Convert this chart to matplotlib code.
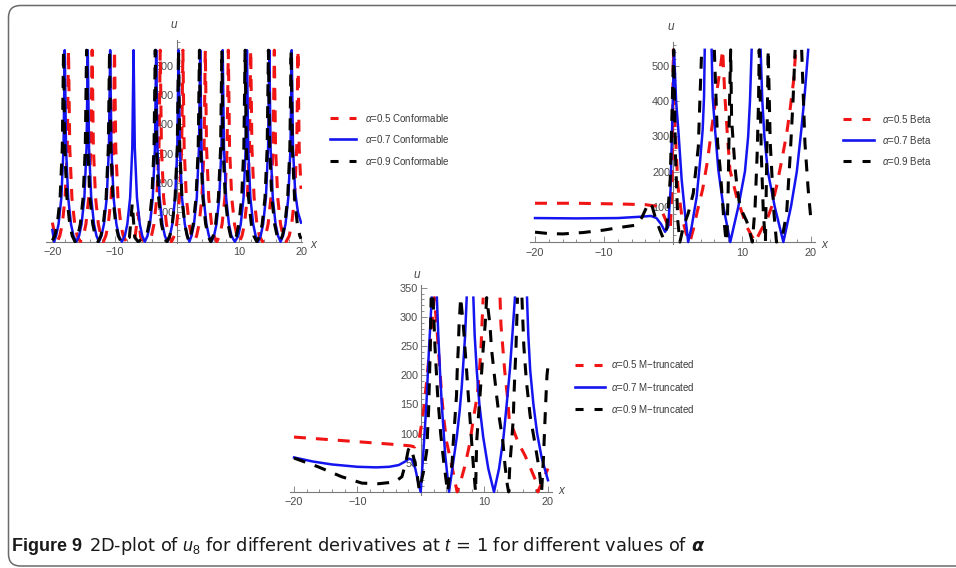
import numpy as np
import matplotlib
matplotlib.use('Agg')
import matplotlib.pyplot as plt
from matplotlib import font_manager
from matplotlib.lines import Line2D
from matplotlib.patches import FancyBboxPatch
from matplotlib.ticker import FixedLocator, MultipleLocator
from matplotlib.transforms import IdentityTransform

N = np.nan

# ---- panel 1: conformable derivative (x, u) ----
red_conf = [(-20, 65), (-19.6, 25), (-19.2, 0), (-18.8, 20), (-18.4, 60), (-17.95, 150), (-17.6, 320), (-17.4, 653),
            (-17.2, 320), (-16.85, 150), (-16.4, 60), (-16.0, 20), (-15.5, 0), (-15.0, 20), (-14.6, 60), (-14.15, 150),
            (-13.8, 320), (-13.6, 653), (-13.4, 320), (-13.05, 150), (-12.6, 60), (-12.2, 20), (-11.8, 0), (-11.4, 20),
            (-11.0, 60), (-10.55, 150), (-10.2, 320), (-10.0, 653), (-9.8, 320), (-9.45, 150), (-9.0, 60), (-8.6, 20),
            (-8.1, 0), (-6.7, 15), (-6.2, 100), (-5.8, 15), (-5.2, 0), (-4.05, 20), (-3.65, 60), (-3.2, 150),
            (-2.85, 320), (-2.65, 653), (-2.45, 320), (-2.1, 150), (-1.65, 60), (-1.25, 20), (-0.83, 0), (-0.4, 20),
            (0.0, 60), (0.45, 150), (0.8, 320), (1.0, 653), (1.2, 320), (1.55, 150), (2.0, 60), (2.4, 20), (2.8, 0),
            (3.2, 20), (3.6, 60), (4.05, 150), (4.4, 320), (4.6, 653), (4.8, 320), (5.15, 150), (5.6, 60), (6.0, 20),
            (6.45, 0), (6.9, 20), (7.3, 60), (7.75, 150), (8.1, 320), (8.3, 653), (8.5, 320), (8.85, 150), (9.3, 60),
            (9.7, 20), (10.1, 0), (10.5, 20), (10.9, 60), (11.35, 150), (11.7, 320), (11.9, 653), (12.1, 320),
            (12.45, 150), (12.9, 60), (13.3, 20), (13.8, 0), (14.3, 20), (14.7, 60), (15.15, 150), (15.5, 320),
            (15.7, 653), (15.9, 320), (16.25, 150), (16.7, 60), (17.1, 20), (17.6, 0), (18.1, 20), (18.5, 60),
            (18.95, 150), (19.3, 320), (19.5, 653), (19.7, 320), (20.0, 180)]

blue_conf = [(-20, 40), (-19.7, 0), (-19.4, 20), (-19.0, 60), (-18.55, 150), (-18.2, 320), (-18.0, 653), (-17.8, 320),
             (-17.45, 150), (-17.0, 60), (-16.6, 20), (-16.15, 0), (-15.7, 20), (-15.3, 60), (-14.85, 150),
             (-14.5, 320), (-14.3, 653), (-14.1, 320), (-13.75, 150), (-13.3, 60), (-12.9, 20), (-12.5, 0),
             (-12.1, 20), (-11.7, 60), (-11.25, 150), (-10.9, 320), (-10.7, 653), (-10.5, 320), (-10.15, 150),
             (-9.7, 60), (-9.3, 20), (-8.82, 0), (-8.34, 20), (-7.94, 60), (-7.49, 150), (-7.14, 320), (-6.94, 653),
             (-6.74, 320), (-6.39, 150), (-5.94, 60), (-5.54, 20), (-5.12, 0), (-4.7, 20), (-4.3, 60), (-3.85, 150),
             (-3.5, 320), (-3.3, 653), (-3.1, 320), (-2.75, 150), (-2.3, 60), (-1.9, 20), (-1.5, 0), (-1.1, 20),
             (-0.7, 60), (-0.25, 150), (0.1, 320), (0.3, 653), (0.5, 320), (0.85, 150), (1.3, 60), (1.7, 20),
             (2.04, 0), (2.38, 20), (2.78, 60), (3.23, 150), (3.58, 320), (3.78, 653), (3.98, 320), (4.33, 150),
             (4.78, 60), (5.18, 20), (5.59, 0), (6.0, 20), (6.4, 60), (6.85, 150), (7.2, 320), (7.4, 653), (7.6, 320),
             (7.95, 150), (8.4, 60), (8.8, 20), (9.35, 0), (9.9, 20), (10.3, 60), (10.75, 150), (11.1, 320),
             (11.3, 653), (11.5, 320), (11.85, 150), (12.3, 60), (12.7, 20), (13.1, 0), (13.5, 20), (13.9, 60),
             (14.35, 150), (14.7, 320), (14.9, 653), (15.1, 320), (15.45, 150), (15.9, 60), (16.3, 20), (16.7, 0),
             (17.1, 20), (17.5, 60), (17.95, 150), (18.3, 320), (18.5, 653), (18.7, 320), (19.05, 170), (19.5, 100),
             (20.0, 65)]

black_conf = [(-20, 5), (-19.6, 20), (-19.2, 60), (-18.75, 150), (-18.4, 320), (-18.2, 653), (-18.0, 320),
              (-17.65, 150), (-17.2, 60), (-16.8, 20), (-16.35, 0), (-15.9, 20), (-15.5, 60), (-15.05, 150),
              (-14.7, 320), (-14.5, 653), (-14.3, 320), (-13.95, 150), (-13.5, 60), (-13.1, 20), (-12.65, 0),
              (-12.2, 20), (-11.8, 60), (-11.35, 150), (-11.0, 320), (-10.8, 653), (-10.6, 320), (-10.25, 150),
              (-9.8, 60), (-9.4, 20), (-8.95, 0), (-7.6, 15), (-7.15, 130), (-6.75, 15), (-6.2, 0), (-4.85, 20),
              (-4.45, 60), (-4.0, 150), (-3.65, 320), (-3.45, 653), (-3.25, 320), (-2.9, 150), (-2.45, 60),
              (-2.05, 20), (-1.58, 0), (-1.11, 20), (-0.71, 60), (-0.26, 150), (0.09, 320), (0.29, 653), (0.49, 320),
              (0.84, 150), (1.29, 60), (1.69, 20), (1.97, 0), (2.26, 20), (2.66, 60), (3.11, 150), (3.46, 320),
              (3.66, 653), (3.86, 320), (4.21, 150), (4.66, 60), (5.06, 20), (5.46, 0), (5.86, 20), (6.26, 60),
              (6.71, 150), (7.06, 320), (7.26, 653), (7.46, 320), (7.81, 150), (8.26, 60), (8.66, 20), (9.13, 0),
              (9.6, 20), (10.0, 60), (10.45, 150), (10.8, 320), (11.0, 653), (11.2, 320), (11.55, 150), (12.0, 60),
              (12.4, 20), (12.88, 0), (13.35, 20), (13.75, 60), (14.2, 150), (14.55, 320), (14.75, 653), (14.95, 320),
              (15.3, 150), (15.75, 60), (16.15, 20), (16.58, 0), (17.0, 20), (17.4, 60), (17.85, 150), (18.2, 320),
              (18.4, 653), (18.6, 320), (18.95, 150), (19.4, 60), (19.8, 20), (20.0, 10)]

# ---- panel 2: beta derivative ----
red_beta = [(-20, 110), (-14, 110), (-8, 108), (-4, 106), (-2.5, 102), (-1.6, 88), (-0.9, 55), (-0.4, 34),
            (-0.15, 150), (0.05, 545), (0.3, 330), (0.7, 160), (1.3, 70), (1.9, 25), (2.45, 0), (3.0, 40), (3.5, 85),
            (4.3, 150), (5.0, 230), (5.6, 320), (6.3, 420), (6.9, 500), (7.2, 545), (7.5, 420), (7.9, 300),
            (8.26, 204), (9.23, 128), (10.7, 43), (11.9, 0), (12.8, 35), (13.6, 62), (14.3, 100), (15.0, 157),
            (15.8, 235), (16.5, 310), (17.0, 380), (17.5, 460), (17.8, 545)]

blue_beta = [(-20, 68), (-14, 67), (-8, 68), (-4.5, 72), (-3.2, 74), (-2.4, 68), (-1.7, 50), (-1.15, 29), (-0.7, 43),
             (-0.35, 150), (0.15, 545), (0.45, 400), (0.77, 318), (1.26, 176), (1.74, 81), (2.2, 0), (2.7, 43),
             (3.43, 128), (3.9, 223), (4.3, 318), (4.5, 412), (4.6, 545), (N, N), (5.6, 545), (5.75, 412), (6.1, 318),
             (6.57, 205), (7.3, 101), (8.3, 0), (9.47, 100), (10.43, 200), (10.9, 300), (11.16, 400), (11.4, 545),
             (N, N), (12.7, 545), (12.95, 400), (13.25, 300), (13.75, 200), (14.75, 100), (16.0, 0), (17.1, 100),
             (17.95, 200), (18.6, 318), (19.1, 420), (19.6, 545)]

black_beta = [(-20, 28), (-18, 24), (-16, 23), (-13, 27), (-10, 34), (-7.5, 42), (-5.3, 48), (-4.5, 70), (-3.8, 100),
              (-3.4, 112), (-3.0, 100), (-2.6, 72), (-1.9, 34), (-1.4, 10), (-0.9, 40), (-0.4, 180), (0.1, 545),
              (0.35, 250), (0.7, 60), (1.0, 0), (1.5, 43), (2.2, 81), (2.94, 138), (3.67, 270), (3.9, 403),
              (4.16, 545), (N, N), (5.99, 545), (6.23, 412), (6.47, 280), (6.81, 214), (7.06, 148), (7.3, 81),
              (7.6, 20), (7.8, 0), (8.0, 150), (8.2, 400), (8.36, 545), (8.5, 346), (8.74, 280), (8.98, 214),
              (9.23, 166), (9.7, 100), (10.7, 58), (11.16, 25), (11.5, 0), (11.9, 100), (12.2, 250), (12.4, 400),
              (12.5, 545), (12.8, 250), (13.1, 81), (13.4, 0), (13.6, 250), (13.8, 545), (14.1, 280), (14.64, 81),
              (15.0, 0), (15.8, 10), (16.47, 81), (17.0, 250), (17.4, 400), (17.7, 545), (N, N), (18.65, 545),
              (19.13, 280), (19.6, 148), (20.0, 62)]

# ---- panel 3: M-truncated derivative ----
red_m = [(-20, 94), (-15, 90), (-10, 86), (-5, 82), (-1.7, 79), (-1.0, 77), (-0.3, 90), (0.3, 130), (0.9, 190),
         (1.5, 260), (2.1, 333), (2.47, 286), (2.73, 246), (3.0, 206), (3.26, 165), (3.6, 125), (4.05, 85),
         (4.85, 45), (5.5, 10), (5.7, 0), (6.3, 20), (6.93, 45), (7.72, 85), (8.24, 125), (8.87, 165), (9.2, 206),
         (9.45, 246), (9.6, 286), (9.8, 333), (N, N), (12.45, 333), (12.6, 286), (12.9, 246), (13.2, 206),
         (13.6, 165), (13.9, 125), (15.3, 85), (16.4, 62), (17.2, 42), (18.2, 16), (18.4, 0), (19.0, 15), (20.0, 40)]

blue_m = [(-20, 59), (-17, 52), (-14, 47), (-10, 43), (-7, 42), (-5, 43), (-3.5, 46), (-2.5, 52), (-1.9, 57),
          (-1.4, 55), (-0.9, 40), (-0.5, 20), (-0.05, 0), (0.33, 60), (0.86, 152), (1.23, 238), (1.7, 333), (N, N),
          (2.5, 333), (2.74, 266), (3.0, 205), (3.27, 151), (3.8, 65), (4.42, 0), (5.0, 45), (5.64, 94), (6.1, 140),
          (6.42, 180), (6.94, 266), (7.2, 333), (N, N), (8.25, 333), (8.45, 270), (8.78, 209), (9.2, 150), (9.8, 94),
          (10.6, 40), (11.5, 0), (12.3, 40), (13.0, 94), (13.5, 150), (14.0, 209), (14.4, 270), (14.8, 333), (N, N),
          (16.7, 333), (16.9, 270), (17.2, 209), (17.7, 151), (18.3, 100), (19.0, 59), (20.0, 20)]

black_m = [(-20, 58), (-16.2, 43), (-12.5, 26), (-9.3, 15), (-6.7, 14), (-4.1, 17), (-3.0, 26), (-2.4, 50),
           (-2.0, 72), (-1.73, 77), (-1.3, 65), (-0.94, 49), (-0.55, 25), (-0.27, 3), (0.1, 20), (0.4, 35),
           (0.9, 70), (1.2, 140), (1.45, 240), (1.6, 333), (N, N), (1.9, 333), (2.2, 250), (2.6, 170), (3.1, 100),
           (3.6, 50), (4.05, 12), (4.2, 0), (4.5, 30), (4.88, 46), (5.09, 86), (5.35, 126), (5.6, 166), (5.7, 206),
           (5.87, 246), (6.0, 286), (6.25, 333), (6.67, 286), (6.93, 246), (7.2, 206), (7.45, 166), (7.72, 126),
           (7.98, 86), (8.24, 46), (8.5, 12), (8.6, 0), (8.77, 86), (9.03, 126), (9.3, 166), (9.56, 206), (9.8, 246),
           (10.1, 286), (10.35, 333), (10.87, 286), (11.1, 246), (11.5, 206), (11.9, 166), (12.35, 126), (12.9, 86),
           (13.23, 46), (13.6, 12), (13.8, 0), (14.0, 46), (14.28, 86), (14.54, 126), (14.65, 166), (14.8, 206),
           (14.96, 246), (15.07, 286), (15.2, 333), (N, N), (15.9, 333), (16.2, 250), (16.6, 190), (17.2, 130),
           (18.0, 80), (18.6, 40), (19.0, 0), (19.3, 60), (19.5, 115), (19.7, 166), (19.85, 200), (20.0, 215)]

x_ticks = [-20, -10, 10, 20]
legend_conf = [r'$\alpha$=0.5 Conformable', r'$\alpha$=0.7 Conformable', r'$\alpha$=0.9 Conformable']
legend_beta = [r'$\alpha$=0.5 Beta', r'$\alpha$=0.7 Beta', r'$\alpha$=0.9 Beta']
legend_m = ['$\\alpha$=0.5 M\u2212truncated', '$\\alpha$=0.7 M\u2212truncated', '$\\alpha$=0.9 M\u2212truncated']

W, H = 956, 568
RED, BLUE, BLACK = '#f01414', '#1414f0', '#000000'

names = {f.name for f in font_manager.fontManager.ttflist}
NARROW = 'Liberation Sans Narrow' if 'Liberation Sans Narrow' in names else 'Liberation Sans'
LEG_SIZE = 8 if NARROW == 'Liberation Sans Narrow' else 7

plt.rcParams['lines.scale_dashes'] = False
plt.rcParams['mathtext.fontset'] = 'custom'
plt.rcParams['mathtext.rm'] = NARROW
plt.rcParams['mathtext.it'] = NARROW + ':italic'
plt.rcParams['font.family'] = [NARROW, 'DejaVu Sans']


def fx(px):
    return px / W


def fy(py):
    return 1 - py / H


def add_panel(fig, box, xlim, ylim, yticks, yminor, series, ulab, xlab):
    x0, x1, y0, y1 = box
    ax = fig.add_axes([fx(x0), fy(y1), (x1 - x0) / W, (y1 - y0) / H])
    ax.patch.set_alpha(0)
    for pts, color, dashed in series:
        arr = np.array(pts, dtype=float)
        if dashed:
            ax.plot(arr[:, 0], arr[:, 1], color=color, lw=2.2, dashes=(8.6, 7.2), dash_capstyle='butt')
        else:
            ax.plot(arr[:, 0], arr[:, 1], color=color, lw=1.8)
    ax.set_xlim(*xlim)
    ax.set_ylim(*ylim)
    for s in ['top', 'right']:
        ax.spines[s].set_visible(False)
    ax.spines['left'].set_position(('data', 0))
    ax.spines['bottom'].set_position(('data', 0))
    for s in ['left', 'bottom']:
        ax.spines[s].set_color('#7a7a7a')
        ax.spines[s].set_linewidth(0.8)
        ax.spines[s].set_zorder(0.5)
    ax.xaxis.set_major_locator(FixedLocator(x_ticks))
    ax.xaxis.set_minor_locator(MultipleLocator(2))
    ax.yaxis.set_major_locator(FixedLocator(yticks))
    ax.yaxis.set_minor_locator(MultipleLocator(yminor))
    ax.tick_params(which='both', direction='in', color='#7a7a7a', width=0.6, labelcolor='#4a4a4a',
                   labelsize=7.8)
    ax.tick_params(axis='x', pad=4)
    ax.tick_params(axis='y', pad=2)
    ax.tick_params(which='major', length=4)
    ax.tick_params(which='minor', length=2)
    fig.text(fx(ulab[0]), fy(ulab[1]), 'u', style='italic', color='#4a4a4a', size=8.5, ha='center', va='center')
    fig.text(fx(xlab[0]), fy(xlab[1]), 'x', style='italic', color='#4a4a4a', size=8.5, ha='center', va='center')
    return ax


def add_legend(fig, x0, x1, xt, rows, labels):
    styles = [(RED, True), (BLUE, False), (BLACK, True)]
    for (color, dashed), y, label in zip(styles, rows, labels):
        if dashed:
            line = Line2D([fx(x0), fx(x1)], [fy(y), fy(y)], transform=fig.transFigure, color=color, lw=2.2,
                          dashes=(5.8, 7.9), dash_capstyle='butt')
        else:
            line = Line2D([fx(x0), fx(x1)], [fy(y), fy(y)], transform=fig.transFigure, color=color, lw=1.9)
        fig.add_artist(line)
        fig.text(fx(xt), fy(y), label, size=LEG_SIZE, color='#3a3a3a', va='center', ha='left')


fig = plt.figure(figsize=(W / 100, H / 100), dpi=100)

add_panel(fig, (45.5, 302.3, 39.9, 243.2), (-21.1, 20.2), (-5, 688), [100, 200, 300, 400, 500, 600], 20,
          [(red_conf, RED, True), (blue_conf, BLUE, False), (black_conf, BLACK, True)], (173.5, 25), (313, 245))
add_legend(fig, 330, 356, 365, [118.3, 139.3, 161], legend_conf)

add_panel(fig, (530.2, 815.1, 42.1, 243.8), (-20.7, 20.6), (-5, 567), [100, 200, 300, 400, 500], 20,
          [(red_beta, RED, True), (blue_beta, BLUE, False), (black_beta, BLACK, True)], (671, 27), (824, 245))
add_legend(fig, 843, 874, 882, [119, 140, 161], legend_beta)

add_panel(fig, (290.2, 552.4, 284.8, 494.8), (-20.6, 20.7), (-5, 355), [50, 100, 150, 200, 250, 300, 350], 10,
          [(red_m, RED, True), (blue_m, BLUE, False), (black_m, BLACK, True)], (417, 275), (561, 491))
add_legend(fig, 575, 605, 611, [364.5, 386.7, 409], legend_m)

# frame around the figure
frame = FancyBboxPatch((8.5, H - 566), 960, 566 - 5.5, boxstyle='round,pad=0,rounding_size=12',
                       transform=IdentityTransform(), fill=False, edgecolor='#6a6a6a', lw=1.1)
fig.add_artist(frame)

# caption: bold label, then the sentence stretched to the width it has in the picture
renderer = fig.canvas.get_renderer()
t1 = fig.text(fx(12), fy(551), 'Figure 9', weight='bold', size=13, color='#1a1a1a', va='baseline')
bb = t1.get_window_extent(renderer)
t2 = fig.text((bb.x1 + 7) / W, fy(551),
              '2D-plot of $u_8$ for different derivatives at $t$ = 1 for different values of',
              size=12, family='DejaVu Sans', color='#1a1a1a', va='baseline')
w2 = t2.get_window_extent(renderer).width
t2.set_size(12 * (688 - bb.x1 - 7) / w2)
bb2 = t2.get_window_extent(renderer)
fig.text((bb2.x1 + 4) / W, fy(551), '\u03b1', size=t2.get_size(), style='italic', weight='bold',
         family='DejaVu Sans', color='#1a1a1a', va='baseline')

fig.savefig('out.png', dpi=100)
